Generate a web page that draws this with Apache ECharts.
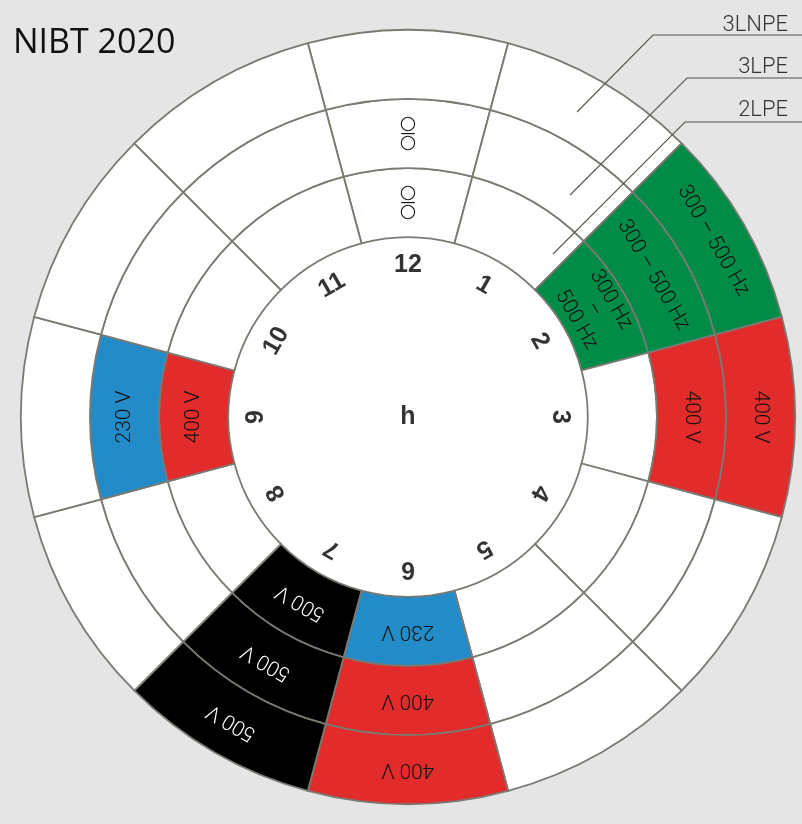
<!DOCTYPE html>
<html><head><meta charset="utf-8">
<script src="https://cdn.jsdelivr.net/npm/echarts@6/dist/echarts.min.js"></script>
<style>html,body{margin:0;padding:0;background:#e5e5e5}#c{width:802px;height:824px}</style>
</head><body><div id="c"></div>
<script>
// ---- data ----
const hours = ['12','1','2','3','4','5','6','7','8','9','10','11'];
const ringNames = ['2LPE','3LPE','3LNPE'];
const SYM = 'switch';
const ring2LPE  = [SYM,'','300 Hz\n–\n500 Hz','','','','230 V','500 V','','400 V','',''];
const ring3LPE  = [SYM,'','300 – 500 Hz','400 V','','','400 V','500 V','','230 V','',''];
const ring3LNPE = ['','','300 – 500 Hz','400 V','','','400 V','500 V','','','',''];
const centreLabel = 'h';
const titleText = 'NIBT 2020';

// ---- styling ----
const CX = 408, CY = 417, R = 387;
const hubDepth = 2.6;      // centre disc, in ring units
const ringDepth = 1;       // each ring, in ring units
const lineCol = '#7a7a72';
const cellFont = 'Roboto';
function cellColor(t){
  if (t.indexOf('Hz') >= 0) return '#008c46';
  if (t.indexOf('400') === 0) return '#e22b2b';
  if (t.indexOf('230') === 0) return '#238bc8';
  if (t.indexOf('500') === 0) return '#000000';
  return '#ffffff';
}
function ringSeries(name, labels){
  return {
    type:'bar', coordinateSystem:'polar', stack:'r', name:name,
    barCategoryGap:'0%', silent:true,
    itemStyle:{borderColor:lineCol, borderWidth:1.8},
    label:{show:true, position:'middle', fontFamily:cellFont, fontWeight:300, fontSize:21, lineHeight:20,
      rich:{o:{fontFamily:'DejaVu Sans', fontWeight:'normal', fontSize:19, lineHeight:14, color:'#111'},
            d:{fontFamily:'DejaVu Sans', fontWeight:'normal', fontSize:15, lineHeight:5, color:'#111'}}},
    data: labels.map(function(t,i){
      const c = cellColor(t);
      return {value: ringDepth, itemStyle:{color:c},
        label:{show: t !== '', rotate: -i*Math.PI/6,
          formatter: t === SYM ? '{o|○}\n{d|—}\n{o|○}' : t,
          color: c === '#000000' ? '#ffffff' : '#111111'}};
    })
  };
}

const chart = echarts.init(document.getElementById('c'));
chart.setOption({
  backgroundColor:'#e5e5e5',
  animation:false,
  title:{text:titleText, left:8, top:21,
    textStyle:{fontFamily:'Open Sans', fontSize:34, fontWeight:'normal', color:'#111'}},
  polar:{center:[CX,CY], radius:[0,R]},
  angleAxis:{type:'category', data:hours, startAngle:105, clockwise:true,
    axisLine:{show:false}, axisTick:{show:false}, axisLabel:{show:false}, splitLine:{show:false}},
  radiusAxis:{type:'value', min:0, max:hubDepth+3*ringDepth,
    axisLine:{show:false}, axisTick:{show:false}, axisLabel:{show:false}, splitLine:{show:false}},
  series:[
    {type:'bar', coordinateSystem:'polar', stack:'r', name:'hub', barCategoryGap:'0%', silent:true,
     itemStyle:{color:'#ffffff', borderWidth:0},
     data: hours.map(function(){ return hubDepth; })},
    ringSeries(ringNames[0], ring2LPE),
    ringSeries(ringNames[1], ring3LPE),
    ringSeries(ringNames[2], ring3LNPE),
    {type:'scatter', coordinateSystem:'polar', symbolSize:0, silent:true, z:10,
     label:{show:true, position:'inside', formatter:'{b}', fontFamily:'Liberation Sans',
       fontWeight:'bold', fontSize:25, color:'#000'},
     data: hours.map(function(h,i){ return {name:h, value:[2.2, h], label:{rotate:-i*30}}; })
       .concat([{name:centreLabel, value:[0, hours[0]]}])}
  ],
  graphic:[
    {type:'circle', z:-10, shape:{cx:CX, cy:CY, r:R}, style:{fill:'#fff'}},
    {type:'polyline', z:100, shape:{points:[[802,35],[653,35],[577,112]]}, style:{stroke:'#55554a', lineWidth:1.1, fill:null}},
    {type:'polyline', z:100, shape:{points:[[802,78],[687,78],[570,195]]}, style:{stroke:'#55554a', lineWidth:1.1, fill:null}},
    {type:'polyline', z:100, shape:{points:[[802,122],[685,122],[553,254]]}, style:{stroke:'#55554a', lineWidth:1.1, fill:null}},
    {type:'text', z:100, style:{text:ringNames[2], x:788, y:25, align:'right', verticalAlign:'middle', fontFamily:cellFont, fontWeight:300, fontSize:22, fill:'#333'}},
    {type:'text', z:100, style:{text:ringNames[1], x:788, y:67, align:'right', verticalAlign:'middle', fontFamily:cellFont, fontWeight:300, fontSize:22, fill:'#333'}},
    {type:'text', z:100, style:{text:ringNames[0], x:788, y:110, align:'right', verticalAlign:'middle', fontFamily:cellFont, fontWeight:300, fontSize:22, fill:'#333'}}
  ]
});
</script></body></html>
